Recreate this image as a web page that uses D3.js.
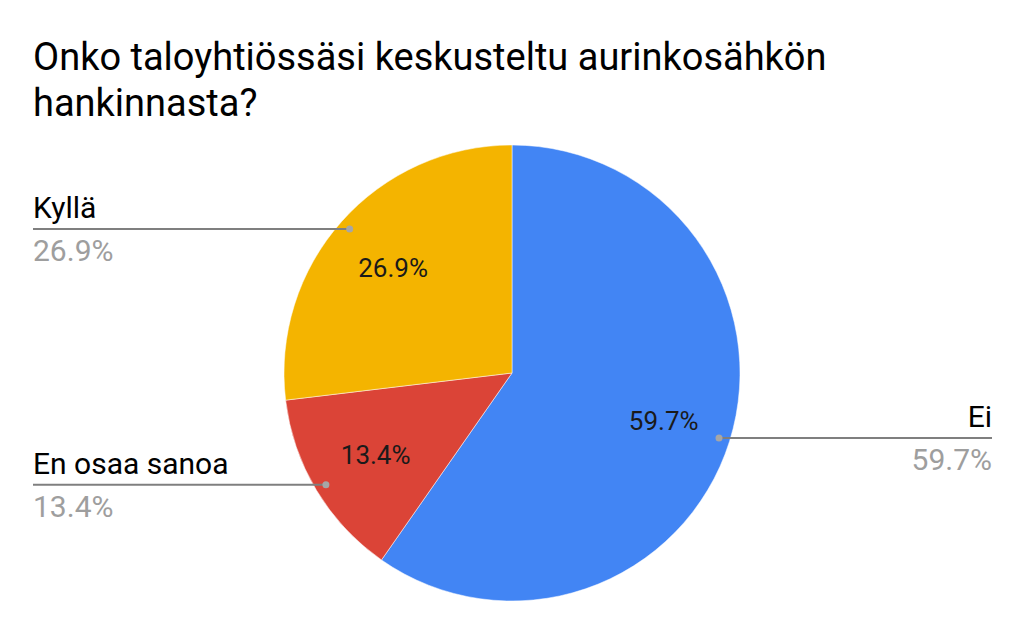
<!DOCTYPE html>
<html><head><meta charset="utf-8">
<script src="https://cdn.jsdelivr.net/npm/d3@7"></script>
<style>body{margin:0;background:#fff}svg{display:block}text{font-family:Roboto,"Noto Sans",sans-serif}</style>
</head><body>
<svg id="c" width="1024" height="633"></svg>
<script>
const titleLines = ["Onko taloyhtiössäsi keskusteltu aurinkosähkön", "hankinnasta?"];
const categories = ["Ei", "En osaa sanoa", "Kyllä"];
const values = [59.7, 13.4, 26.9];
const colors = ["#4285F4", "#DB4437", "#F4B400"];
const pctLabels = ["59.7%", "13.4%", "26.9%"];

const svg = d3.select("#c");
svg.append("rect").attr("width",1024).attr("height",633).attr("fill","#fff");
svg.append("g").selectAll("text").data(titleLines).join("text")
  .attr("x",33).attr("y",(d,i)=>70+i*46).attr("font-size",38).attr("fill","#000").text(d=>d);

const cx=512, cy=373, R=228;
const data = categories.map((c,i)=>({cat:c,value:values[i],color:colors[i],pct:pctLabels[i]}));
const pie = d3.pie().value(d=>d.value).sort(null);
const arcs = pie(data);
const arc = d3.arc().innerRadius(0).outerRadius(R);
const labelArc = d3.arc().innerRadius(159).outerRadius(159);
const dotArc = d3.arc().innerRadius(217).outerRadius(217);
const g = svg.append("g").attr("transform",`translate(${cx},${cy})`);
g.selectAll("path").data(arcs).join("path").attr("d",arc).attr("fill",d=>d.data.color)
  .attr("stroke","#fff").attr("stroke-width",0.5);
g.selectAll("text.in").data(arcs).join("text").attr("class","in")
  .attr("transform",d=>`translate(${labelArc.centroid(d)})`)
  .attr("text-anchor","middle").attr("dy","0.36em").attr("font-size",26).attr("fill","#1a1a1a")
  .text(d=>d.data.pct);

// leader lines
arcs.forEach(d=>{
  const [dx,dy] = dotArc.centroid(d);
  const px=cx+dx, py=cy+dy;
  const right = px>cx;
  const endX = right?992:33;
  svg.append("line").attr("x1",px).attr("y1",py).attr("x2",endX).attr("y2",py)
    .attr("stroke","#7f7f7f").attr("stroke-width",2);
  svg.append("circle").attr("cx",px).attr("cy",py).attr("r",3.5).attr("fill","#a6a6a6");
  svg.append("text").attr("x",endX).attr("y",py-11).attr("text-anchor",right?"end":"start")
    .attr("font-size",30).attr("fill","#000").text(d.data.cat);
  svg.append("text").attr("x",endX).attr("y",py+32).attr("text-anchor",right?"end":"start")
    .attr("font-size",30).attr("fill","#9e9e9e").text(d.data.pct);
});
</script>
</body></html>
